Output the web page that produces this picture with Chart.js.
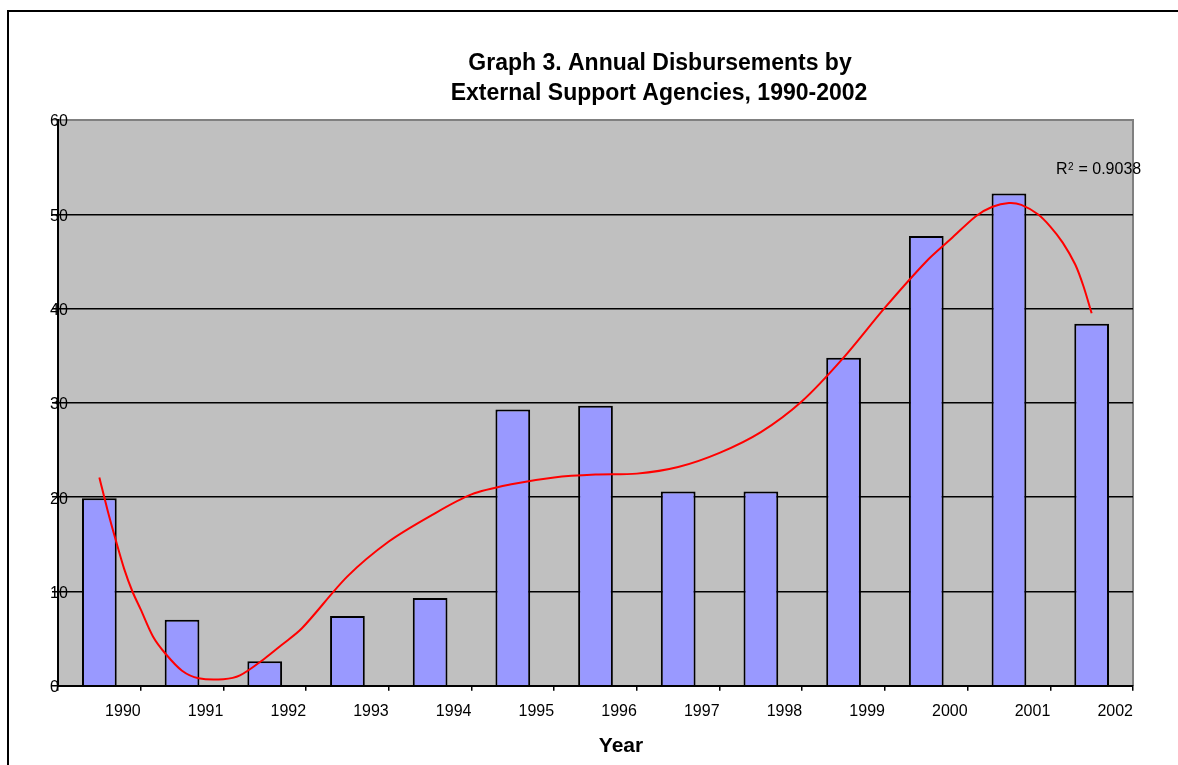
<!DOCTYPE html>
<html>
<head>
<meta charset="utf-8">
<title>Graph 3. Annual Disbursements by External Support Agencies, 1990-2002</title>
<script src="https://cdn.jsdelivr.net/npm/chart.js@4.4.1/dist/chart.umd.min.js"></script>
<style>
  body { margin: 0; background: #fff; }
  #frame { position: absolute; left: 7px; top: 10px; width: 1300px; height: 900px; border: 2px solid #000; }
  #wrap { position: absolute; left: 0; top: 0; width: 1178px; height: 765px; }
</style>
</head>
<body>
<div id="frame"></div>
<div id="wrap"><canvas id="barChart" width="1178" height="765"></canvas></div>
<script>
const years = ['1990', '1991', '1992', '1993', '1994', '1995', '1996', '1997', '1998', '1999', '2000', '2001', '2002'];

const disbursements = [19.9, 7.0, 2.6, 7.4, 9.3, 29.3, 29.7, 20.6, 20.6, 34.8, 47.7, 52.2, 38.4];

// polynomial trendline (x = position in years from 1990)
const trendPos = [0, 0.1, 0.2, 0.3, 0.4, 0.5, 0.65, 0.8, 1.0, 1.2, 1.5, 1.7, 2.0, 2.2, 2.45, 3.0, 3.5, 4.0, 4.5, 5.0, 5.5, 6.0, 6.5, 7.0, 7.5, 8.0, 8.5, 9.0, 9.5, 10.0, 10.3, 10.6, 10.8, 11.0, 11.15, 11.35, 11.5, 11.65, 11.8, 11.9, 12.0];
const trendVal = [22.1, 18.6, 15.4, 12.4, 10.0, 8.1, 5.2, 3.4, 1.6, 0.8, 0.7, 1.1, 2.9, 4.3, 6.1, 11.6, 15.3, 18.0, 20.3, 21.4, 22.1, 22.4, 22.5, 23.2, 24.7, 26.9, 30.2, 34.8, 40.1, 45.0, 47.4, 49.8, 50.8, 51.2, 51.0, 50.0, 48.7, 47.0, 44.7, 42.4, 39.5];

const yMax = 60;
const yStep = 10;
const rSquared = '0.9038';

const font = 'Liberation Sans, Arial, sans-serif';

// tick marks sit between the years, each label ends at the mark right of its bar
const boundaries = [-0.5].concat(years.map((y, i) => i + 0.5));

const plotFrame = {
    id: 'plotFrame',
    beforeDraw(chart) {
        const { ctx, chartArea: a } = chart;
        ctx.save();
        ctx.fillStyle = '#C0C0C0';
        ctx.fillRect(a.left, a.top, a.right - a.left, a.bottom - a.top);
        ctx.strokeStyle = '#808080';
        ctx.lineWidth = 2;
        ctx.beginPath();
        ctx.moveTo(a.left, a.top);
        ctx.lineTo(a.right, a.top);
        ctx.lineTo(a.right, a.bottom);
        ctx.stroke();
        ctx.restore();
    },
    afterDraw(chart) {
        const ctx = chart.ctx;
        ctx.save();
        ctx.fillStyle = '#000';
        ctx.textAlign = 'center';
        ctx.textBaseline = 'alphabetic';
        ctx.font = 'bold 23px ' + font;
        ctx.fillText('Graph 3. Annual Disbursements by', 660, 70);
        ctx.fillText('External Support Agencies, 1990-2002', 659, 100);
        ctx.font = 'bold 21px ' + font;
        ctx.fillText('Year', 621, 752);

        // R² label
        ctx.textAlign = 'left';
        ctx.font = '16px ' + font;
        ctx.fillText('R', 1056, 174);
        ctx.font = '10px ' + font;
        ctx.fillText('2', 1068, 170);
        ctx.font = '16px ' + font;
        ctx.fillText(' = ' + rSquared, 1074, 174);
        ctx.restore();
    }
};

const barChart = document.getElementById('barChart');

new Chart(barChart, {
    type: 'bar',
    data: {
        datasets: [
         {
            type: 'line',
            label: 'Trend',
            data: trendPos.map((p, i) => ({ x: p, y: trendVal[i] })),
            borderColor: '#FF0000',
            borderWidth: 2,
            pointRadius: 0,
            tension: 0.3,
            order: 0,
         },
         {
            label: 'Disbursements',
            data: disbursements.map((v, i) => ({ x: i, y: v })),
            backgroundColor: '#9999FF',
            borderColor: '#000000',
            borderWidth: 2,
            barPercentage: 0.42,
            categoryPercentage: 1,
            order: 1,
         }
        ]
    },
    options: {
        responsive: false,
        animation: false,
        layout: { padding: { left: 0, right: 45, top: 120, bottom: 33 } },
        plugins: {
            legend: { display: false },
            tooltip: { enabled: false },
        },
        scales: {
            x: {
                type: 'linear',
                min: -0.5,
                max: years.length - 0.5,
                offset: false,
                afterBuildTicks: s => { s.ticks = boundaries.map(v => ({ value: v })); },
                grid: { offset: false, drawOnChartArea: false, tickLength: 5, color: '#000', lineWidth: 1.5 },
                border: { color: '#000', width: 2 },
                ticks: {
                    align: 'end',
                    padding: 11,
                    color: '#000',
                    font: { family: font, size: 16 },
                    maxRotation: 0,
                    autoSkip: false,
                    callback: v => years[Math.round(v - 0.5)] || '',
                },
            },
            y: {
                min: 0,
                max: yMax,
                ticks: { stepSize: yStep, mirror: true, padding: -8, labelOffset: 2, color: '#000', font: { family: font, size: 16 } },
                grid: { color: ctx => ctx.tick && ctx.tick.value === yMax ? '#808080' : '#000', lineWidth: 1.5, tickLength: 6 },
                border: { color: '#000', width: 2 },
                afterFit: s => { s.width = 58; },
            }
        }
    },
    plugins: [plotFrame]
});
</script>
</body>
</html>
